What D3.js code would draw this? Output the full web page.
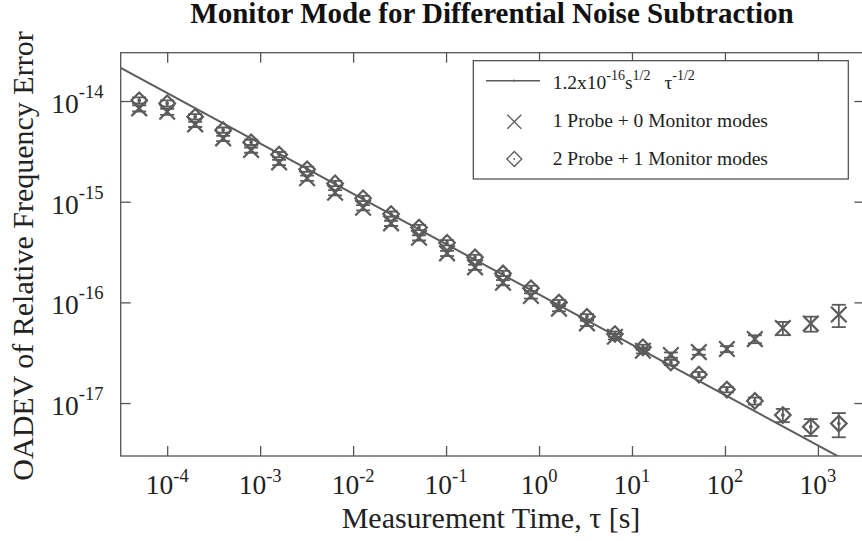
<!DOCTYPE html>
<html><head><meta charset="utf-8">
<script src="https://cdn.jsdelivr.net/npm/d3@7"></script>
<style>
html,body{margin:0;padding:0;background:#fff;}
svg{display:block;font-family:"Liberation Serif","Times New Roman",serif;}
</style></head>
<body>
<svg id="chart" width="862" height="541"></svg>
<script>
// Averaging times (s)
const tau = [5e-5, 1e-4, 2e-4, 4e-4, 8e-4, 1.6e-3, 3.2e-3, 6.4e-3, 1.28e-2, 2.56e-2, 5.12e-2, 0.1024, 0.2048, 0.4096, 0.8192, 1.6384, 3.2768, 6.5536, 13.1072, 26.2144, 52.4288, 104.858, 209.715, 419.43, 838.861, 1677.72];
// 1 Probe + 0 Monitor modes
const probeOnly = [8.46e-15, 7.83e-15, 5.87e-15, 4.26e-15, 3.26e-15, 2.46e-15, 1.71e-15, 1.23e-15, 8.71e-16, 6.10e-16, 4.38e-16, 3.07e-16, 2.23e-16, 1.57e-16, 1.16e-16, 8.68e-17, 6.19e-17, 4.56e-17, 3.31e-17, 3.00e-17, 3.21e-17, 3.44e-17, 4.32e-17, 5.56e-17, 6.16e-17, 7.57e-17];
const probeOnlyErr = [0.07, 0.07, 0.06, 0.06, 0.06, 0.06, 0.06, 0.06, 0.06, 0.06, 0.06, 0.06, 0.06, 0.06, 0.06, 0.06, 0.06, 0.06, 0.06, 0.06, 0.06, 0.07, 0.09, 0.15, 0.17, 0.25];
// 2 Probe + 1 Monitor modes
const withMonitor = [1.016e-14, 9.49e-15, 6.98e-15, 5.15e-15, 3.89e-15, 2.94e-15, 2.10e-15, 1.52e-15, 1.08e-15, 7.54e-16, 5.54e-16, 3.91e-16, 2.80e-16, 1.94e-16, 1.38e-16, 9.96e-17, 7.20e-17, 4.85e-17, 3.58e-17, 2.53e-17, 1.92e-17, 1.36e-17, 1.05e-17, 7.60e-18, 5.82e-18, 6.26e-18];
const withMonitorErr = [0.07, 0.07, 0.06, 0.06, 0.06, 0.06, 0.06, 0.06, 0.06, 0.06, 0.06, 0.06, 0.06, 0.06, 0.06, 0.06, 0.06, 0.06, 0.06, 0.06, 0.06, 0.06, 0.08, 0.15, 0.19, 0.27];
// Reference model: coef * tau^exponent
const fitCoef = 1.2e-16;
const fitExponent = -0.5;
const xTickExps = [-4, -3, -2, -1, 0, 1, 2, 3];
const yTickExps = [-14, -15, -16, -17];
const legendLabels = ["1 Probe + 0 Monitor modes", "2 Probe + 1 Monitor modes"];
const titleText = "Monitor Mode for Differential Noise Subtraction";
const xLabel = "Measurement Time, \u03C4 [s]";
const yLabel = "OADEV of Relative Frequency Error";

const svg = d3.select("#chart");
const L = 120.7, R = 864.4, T = 52.7, B = 456;
const x = d3.scaleLog().domain([Math.pow(10, -4.5), Math.pow(10, 3.5)]).range([L, R]);
const y = d3.scaleLog().domain([Math.pow(10, -17.526), Math.pow(10, -13.52)]).range([B, T]);
const gray = "#5c5c5c";
const axisCol = "#555";

// clip
svg.append("defs").append("clipPath").attr("id", "clip")
  .append("rect").attr("x", L).attr("y", T).attr("width", R - L).attr("height", B - T);

// frame
svg.append("rect").attr("x", L).attr("y", T).attr("width", R - L).attr("height", B - T)
  .attr("fill", "none").attr("stroke", axisCol).attr("stroke-width", 1.3);

// axes ticks via d3 axes (inward)
const tickFmt = () => "";
const xT = xTickExps.map(e => Math.pow(10, e));
const yT = yTickExps.map(e => Math.pow(10, e));
function styleAxis(g) {
  g.select(".domain").remove();
  g.selectAll(".tick line").attr("stroke", axisCol).attr("stroke-width", 1.3);
  g.selectAll(".tick text").remove();
}
svg.append("g").attr("transform", `translate(0,${B})`)
  .call(d3.axisBottom(x).tickValues(xT).tickSize(-10).tickFormat(tickFmt)).call(styleAxis);
svg.append("g").attr("transform", `translate(0,${T})`)
  .call(d3.axisTop(x).tickValues(xT).tickSize(-10).tickFormat(tickFmt)).call(styleAxis);
svg.append("g").attr("transform", `translate(${L},0)`)
  .call(d3.axisLeft(y).tickValues(yT).tickSize(-10).tickFormat(tickFmt)).call(styleAxis);
svg.append("g").attr("transform", `translate(${R},0)`)
  .call(d3.axisRight(y).tickValues(yT).tickSize(-10).tickFormat(tickFmt)).call(styleAxis);

// tick labels
const xl = svg.append("g").attr("fill", "#222").attr("font-size", 27.5);
xTickExps.forEach(e => {
  const t = xl.append("text").attr("x", x(Math.pow(10, e))).attr("y", 494).attr("text-anchor", "middle");
  t.append("tspan").text("10");
  t.append("tspan").attr("font-size", 18.5).attr("dy", -12).text(String(e));
});
const yl = svg.append("g").attr("fill", "#222").attr("font-size", 27.5);
yTickExps.forEach(e => {
  const t = yl.append("text").attr("x", 103.5).attr("y", y(Math.pow(10, e)) + 12).attr("text-anchor", "end");
  t.append("tspan").text("10");
  t.append("tspan").attr("font-size", 18.5).attr("dy", -15).text(String(e));
});

// title & axis labels
svg.append("text").attr("x", 492).attr("y", 22.5).attr("text-anchor", "middle")
  .attr("font-weight", "bold").attr("font-size", 29).attr("fill", "#111").text(titleText);
svg.append("text").attr("x", 491).attr("y", 528).attr("text-anchor", "middle")
  .attr("font-size", 30).attr("fill", "#222").text(xLabel);
svg.append("text").attr("transform", "translate(33,256) rotate(-90)").attr("text-anchor", "middle")
  .attr("font-size", 30).attr("fill", "#222").text(yLabel);

const plot = svg.append("g").attr("clip-path", "url(#clip)");

// fit line
const fitTau = [Math.pow(10, -4.5), Math.pow(10, 3.5)];
plot.append("path")
  .datum(fitTau)
  .attr("d", d3.line().x(d => x(d)).y(d => y(fitCoef * Math.pow(d, fitExponent))))
  .attr("fill", "none").attr("stroke", gray).attr("stroke-width", 2);

function drawErr(g, vals, errs) {
  vals.forEach((v, i) => {
    const cx = x(tau[i]);
    const y1 = y(v * (1 + errs[i])), y2 = y(v * (1 - errs[i]));
    g.append("line").attr("x1", cx).attr("x2", cx).attr("y1", y1).attr("y2", y2);
    g.append("line").attr("x1", cx - 7).attr("x2", cx + 7).attr("y1", y1).attr("y2", y1);
    g.append("line").attr("x1", cx - 7).attr("x2", cx + 7).attr("y1", y2).attr("y2", y2);
  });
}
const eg = plot.append("g").attr("stroke", gray).attr("stroke-width", 1.8);
drawErr(eg, probeOnly, probeOnlyErr);
drawErr(eg, withMonitor, withMonitorErr);

// X markers
const xm = plot.append("g").attr("stroke", gray).attr("stroke-width", 2.2).attr("fill", "none");
probeOnly.forEach((v, i) => {
  const cx = x(tau[i]), cy = y(v), s = 7.8;
  xm.append("path").attr("d", `M${cx - s},${cy - s}L${cx + s},${cy + s}M${cx - s},${cy + s}L${cx + s},${cy - s}`);
});
// diamond markers
const dm = plot.append("g").attr("stroke", gray).attr("stroke-width", 2.2).attr("fill", "none");
withMonitor.forEach((v, i) => {
  const cx = x(tau[i]), cy = y(v), s = 7.8;
  dm.append("path").attr("d", `M${cx},${cy - s}L${cx + s},${cy}L${cx},${cy + s}L${cx - s},${cy}Z`);
  dm.append("circle").attr("cx", cx).attr("cy", cy).attr("r", 0.8).attr("fill", gray);
});

// legend
const lg = svg.append("g");
lg.append("rect").attr("x", 473.3).attr("y", 60.7).attr("width", 375).attr("height", 118.3)
  .attr("fill", "#fff").attr("stroke", "#444").attr("stroke-width", 1.2);
lg.append("line").attr("x1", 486).attr("x2", 540).attr("y1", 80.7).attr("y2", 80.7)
  .attr("stroke", gray).attr("stroke-width", 1.5);
lg.append("line").attr("x1", 514).attr("x2", 514).attr("y1", 79.5).attr("y2", 81.9)
  .attr("stroke", gray).attr("stroke-width", 1);
const t1 = lg.append("text").attr("x", 552.7).attr("y", 89.3).attr("font-size", 19.5).attr("fill", "#222");
t1.append("tspan").text("1.2x10");
t1.append("tspan").attr("font-size", 14).attr("dy", -9).text("-16");
t1.append("tspan").attr("dy", 9).text("s");
t1.append("tspan").attr("font-size", 14).attr("dy", -9).text("1/2");
t1.append("tspan").attr("dy", 9).attr("dx", 14).text("\u03C4");
t1.append("tspan").attr("font-size", 14).attr("dy", -9).text("-1/2");

const s2 = 7, lx = 514.3, ly2 = 121.7, ly3 = 159;
lg.append("path").attr("d", `M${lx - s2},${ly2 - s2}L${lx + s2},${ly2 + s2}M${lx - s2},${ly2 + s2}L${lx + s2},${ly2 - s2}`)
  .attr("stroke", gray).attr("stroke-width", 1.3).attr("fill", "none");
lg.append("path").attr("d", `M${lx},${ly3 - 7.5}L${lx + 7.5},${ly3}L${lx},${ly3 + 7.5}L${lx - 7.5},${ly3}Z`)
  .attr("stroke", gray).attr("stroke-width", 1.3).attr("fill", "none");
lg.append("circle").attr("cx", lx).attr("cy", ly3).attr("r", 0.9).attr("fill", gray);
lg.append("text").attr("x", 552.7).attr("y", 127.3).attr("font-size", 19.5).attr("fill", "#222").text(legendLabels[0]);
lg.append("text").attr("x", 552.7).attr("y", 165).attr("font-size", 19.5).attr("fill", "#222").text(legendLabels[1]);
</script>
</body></html>
